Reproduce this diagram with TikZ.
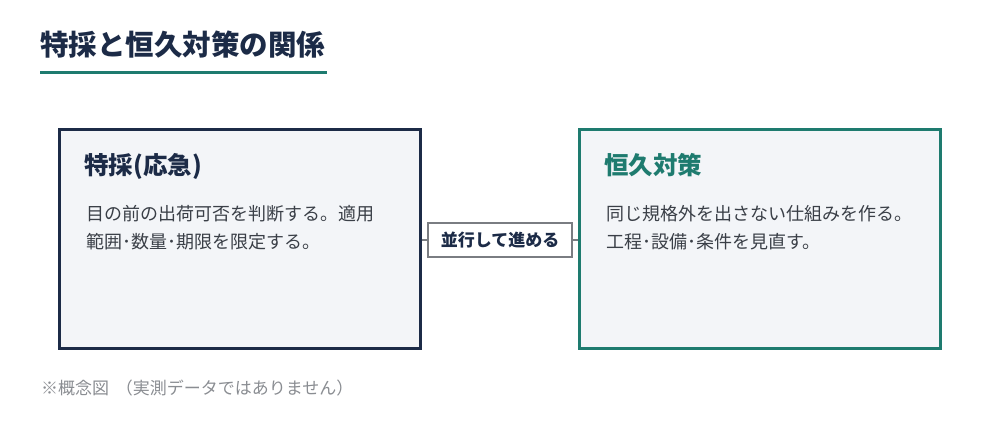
\documentclass[tikz,border=0pt]{standalone}
\usepackage{fontspec}
\setmainfont{Noto Sans CJK JP}
\definecolor{navy}{HTML}{1C2B47}
\definecolor{teal}{HTML}{1E7B6F}
\definecolor{boxfill}{HTML}{F3F5F8}
\definecolor{bodytxt}{HTML}{3A3F47}
\definecolor{midline}{HTML}{7A7D82}
\definecolor{notetxt}{HTML}{8A8D92}
\tikzset{
  card/.style={draw, line width=3.3pt, fill=boxfill, inner sep=0pt, minimum width=361pt, minimum height=219pt},
  cardtitle/.style={anchor=base west, inner sep=0pt, font=\fontsize{24.5}{28}\selectfont\bfseries},
  bodyline/.style={anchor=base west, inner sep=0pt, text=bodytxt, font=\fontsize{18}{22}\selectfont},
  midlabel/.style={draw=midline, line width=2pt, fill=white, inner sep=0pt, minimum width=144pt, minimum height=34pt, text=navy, font=\fontsize{17}{20}\selectfont\bfseries},
  link/.style={draw=midline, line width=2pt}
}
\begin{document}
\begin{tikzpicture}[x=1pt,y=-1pt]
\useasboundingbox[fill=white] (0,0) rectangle (1000,420);
% title
\node[anchor=base west, inner sep=0pt, text=navy, font=\fontsize{28.5}{32}\selectfont\bfseries] (title) at (40,55.8) {特採と恒久対策の関係};
\draw[teal, line width=3pt] (40,72) -- (327,72);
% boxes
\node[card, draw=navy] (left) at (240,239) {};
\node[card, draw=teal] (right) at (760,239) {};
% box texts
\node[cardtitle, text=navy] (lt) at (84,174.3) {特採(応急)};
\node[bodyline] (l1) at (86,220.8) {目の前の出荷可否を判断する。適用};
\node[bodyline] (l2) at (86,248.8) {範囲･数量･期限を限定する。};
\node[cardtitle, text=teal] (rt) at (604,174.3) {恒久対策};
\node[bodyline] (r1) at (606,220.8) {同じ規格外を出さない仕組みを作る。};
\node[bodyline] (r2) at (606,248.8) {工程･設備･条件を見直す。};
% middle
\node[midlabel] (mid) at (500,240) {並行して進める};
\draw[link] (left.east |- mid.west) -- (mid.west);
\draw[link] (mid.east) -- (right.west |- mid.east);
% note
\node[anchor=base west, inner sep=0pt, text=notetxt, font=\fontsize{17}{20}\selectfont] (note) at (41,394.5) {※概念図\kern0.4em（実測データではありません）};
\end{tikzpicture}
\end{document}
